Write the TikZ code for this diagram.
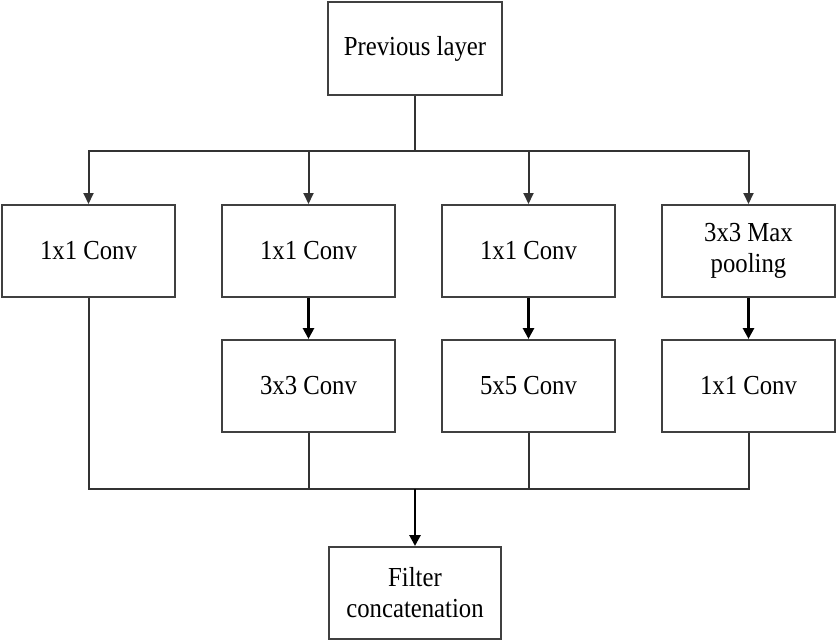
\documentclass[tikz,border=0pt]{standalone}
\usepackage{fontspec}
\setmainfont{Liberation Serif}[FakeStretch=0.9]
\usetikzlibrary{arrows.meta}
\begin{document}
\begin{tikzpicture}[x=1pt,y=-1pt,
  box/.style={draw=black!75,line width=2pt,rectangle,minimum width=173pt,minimum height=92pt,inner sep=0pt,align=center,font=\fontsize{27.5}{31}\selectfont,text=black},
  conn/.style={draw=black!80,line width=2pt},
  arr/.style={conn,-{Triangle[length=11pt,width=10pt]}},
  barr/.style={draw=black,line width=2.8pt,-{Triangle[length=11pt,width=11pt]}}]
\useasboundingbox (0,0) rectangle (839,642);
\node[box,minimum width=174pt,minimum height=93pt] (prev) at (415,48.5) {Previous layer};
\node[box] (a1) at (88.5,251) {1x1 Conv};
\node[box] (b1) at (308.5,251) {1x1 Conv};
\node[box] (c1) at (528.5,251) {1x1 Conv};
\node[box] (d1) at (748.5,251) {3x3 Max\\pooling};
\node[box] (b2) at (308.5,386) {3x3 Conv};
\node[box] (c2) at (528.5,386) {5x5 Conv};
\node[box] (d2) at (748.5,386) {1x1 Conv};
\node[box,minimum width=172pt] (fc) at (415,593) {Filter\\concatenation};
\coordinate (top) at (415,151);
\coordinate (bot) at (415,489);
\draw[conn] (prev.south) -- (top);
\draw[arr] (top) -| (a1.north);
\draw[arr] (top) -| (b1.north);
\draw[arr] (top) -| (c1.north);
\draw[arr] (top) -| (d1.north);
\draw[barr] (b1.south) -- (b2.north);
\draw[barr] (c1.south) -- (c2.north);
\draw[barr] (d1.south) -- (d2.north);
\draw[conn] (a1.south) |- (bot);
\draw[conn] (b2.south) |- (bot);
\draw[conn] (c2.south) |- (bot);
\draw[conn] (d2.south) |- (bot);
\draw[barr] (bot) -- (fc.north);
\end{tikzpicture}
\end{document}
